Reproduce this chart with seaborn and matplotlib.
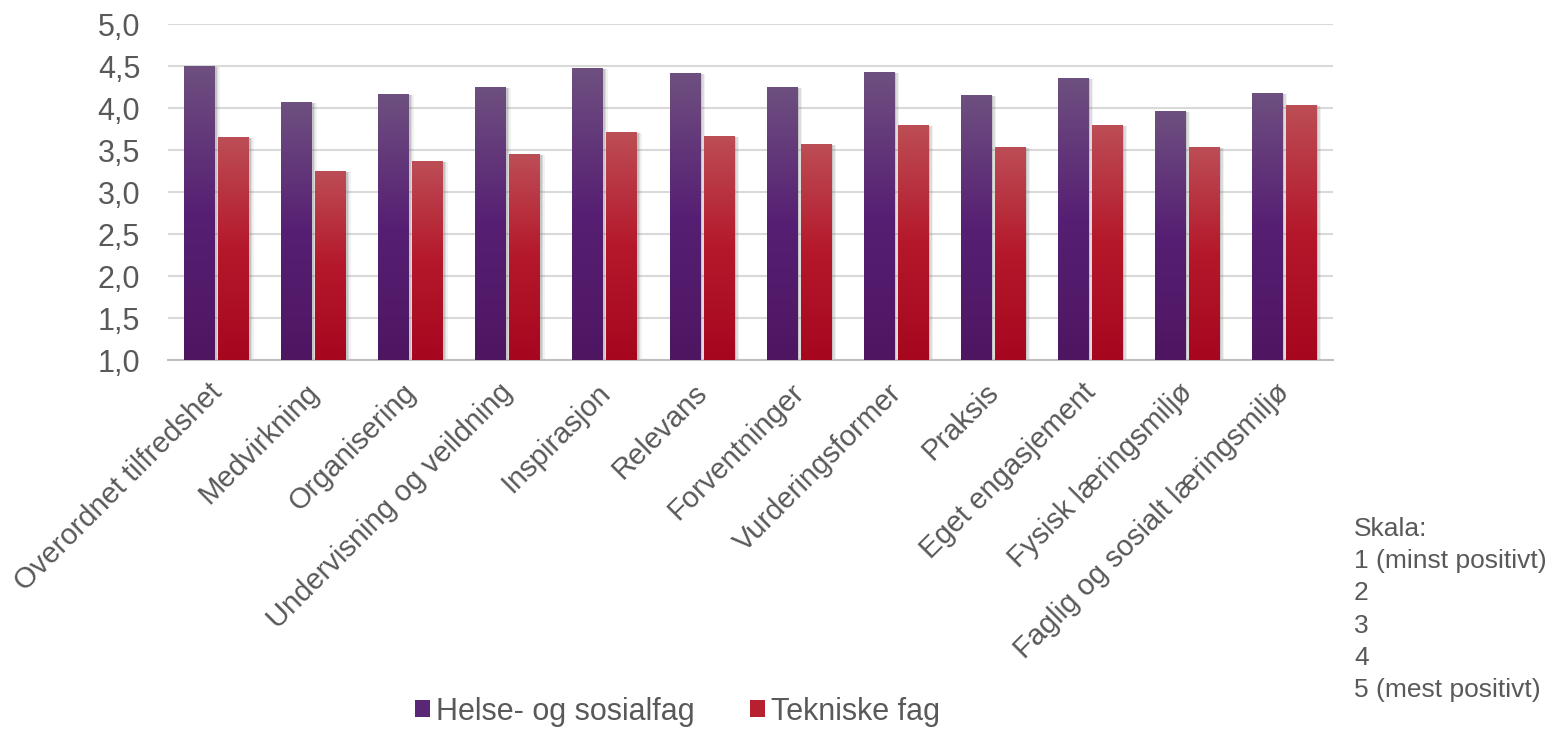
import pandas as pd
import numpy as np
import matplotlib.pyplot as plt
import matplotlib.transforms as mtransforms
import seaborn as sns
from matplotlib.colors import LinearSegmentedColormap
from matplotlib.patches import Rectangle, Patch
from matplotlib.ticker import FuncFormatter

# Values
categories = ['Overordnet tilfredshet', 'Medvirkning', 'Organisering',
              'Undervisning og veildning', 'Inspirasjon', 'Relevans',
              'Forventninger', 'Vurderingsformer', 'Praksis',
              'Eget engasjement', 'Fysisk læringsmiljø',
              'Faglig og sosialt læringsmiljø']
helse = [4.50, 4.07, 4.17, 4.25, 4.48, 4.42, 4.25, 4.43, 4.15, 4.36, 3.96, 4.18]
tekniske = [3.65, 3.25, 3.37, 3.45, 3.71, 3.67, 3.57, 3.80, 3.54, 3.80, 3.54, 4.04]
series = ['Helse- og sosialfag', 'Tekniske fag']
scale_lines = ['Skala:', '1 (minst positivt)', '2', '3', '4', '5 (mest positivt)']

df = pd.DataFrame({
    'kategori': categories * 2,
    'verdi': helse + tekniske,
    'gruppe': [series[0]] * len(categories) + [series[1]] * len(categories),
})

# Gradient stops (top -> bottom) for each series
grad = {
    series[0]: ['#6e5080', '#571f73', '#4e1661'],
    series[1]: ['#bc4e56', '#b5182b', '#a6071f'],
}
solid = {series[0]: '#5a2676', series[1]: '#b8202f'}

sns.set_theme(style='white')
plt.rcParams['font.family'] = ['Liberation Sans', 'DejaVu Sans']
text_col = '#595959'

fig = plt.figure(figsize=(15.51, 7.29), dpi=100)
ax = fig.add_axes([0.1083, 0.506, 0.751, 0.461])

sns.barplot(data=df, x='kategori', y='verdi', hue='gruppe', order=categories,
            hue_order=series, palette=solid, width=0.7, gap=0.1,
            legend=False, ax=ax, zorder=3)

ymin, ymax = 1.0, 5.0

# Replace flat fills with vertical gradients and a soft shadow
bars = list(ax.patches)
for i, bar in enumerate(bars):
    grp = series[i // len(categories)]
    cmap = LinearSegmentedColormap.from_list(grp, grad[grp])
    x0 = bar.get_x()
    w = bar.get_width()
    top = bar.get_y() + bar.get_height()
    bottom = max(bar.get_y(), ymin)
    # shadow
    for k, a in [(0.05, 0.10), (0.035, 0.18), (0.02, 0.25)]:
        ax.add_patch(Rectangle((x0 + k, bottom), w, top - bottom - 0.01,
                               facecolor='#7f7f7f', edgecolor='none',
                               alpha=a, zorder=2))
    img = ax.imshow(np.linspace(0, 1, 256).reshape(-1, 1), cmap=cmap,
                    aspect='auto', extent=(x0, x0 + w, bottom, top),
                    origin='upper', zorder=3.5)
    img.set_clip_path(bar)
    bar.set_facecolor('none')
    bar.set_edgecolor('none')
ax.set_xlim(-0.5, len(categories) - 0.5)
ax.set_ylim(ymin, ymax)

ax.set_yticks(np.arange(1.0, 5.01, 0.5))
ax.yaxis.set_major_formatter(FuncFormatter(lambda v, p: f'{v:.1f}'.replace('.', ',')))
ax.grid(axis='y', color='#d9d9d9', linewidth=1.5, zorder=0)
ax.set_axisbelow(True)
sns.despine(ax=ax, left=True, top=True, right=True)
ax.spines['bottom'].set_color('#bfbfbf')
ax.spines['bottom'].set_linewidth(1.5)

ax.tick_params(axis='y', length=0, labelsize=22, colors=text_col, pad=20)
ax.tick_params(axis='x', length=0, labelsize=21, colors=text_col, pad=6)
ax.set_xticks(range(len(categories)))
ax.set_xticklabels(categories, rotation=45, ha='right', rotation_mode='anchor')
# nudge rotated labels slightly down-left
shift = mtransforms.ScaledTranslation(-0.09, -0.10, fig.dpi_scale_trans)
for lbl in ax.get_xticklabels():
    lbl.set_transform(lbl.get_transform() + shift)
ax.set_xlabel('')
ax.set_ylabel('')

handles = [Patch(facecolor=solid[s], edgecolor='none') for s in series]
fig.legend(handles, series, loc='center', bbox_to_anchor=(0.437, 0.024),
           ncol=2, frameon=False, fontsize=22, labelcolor=text_col,
           handlelength=0.5, handleheight=0.5, handletextpad=0.2,
           columnspacing=1.8, borderpad=0)

for i, line in enumerate(scale_lines):
    fig.text(0.873, 1 - (536 + 32.2 * i) / 729, line, ha='left', va='baseline',
             fontsize=19, color=text_col)

fig.savefig('out.png', dpi=100)
